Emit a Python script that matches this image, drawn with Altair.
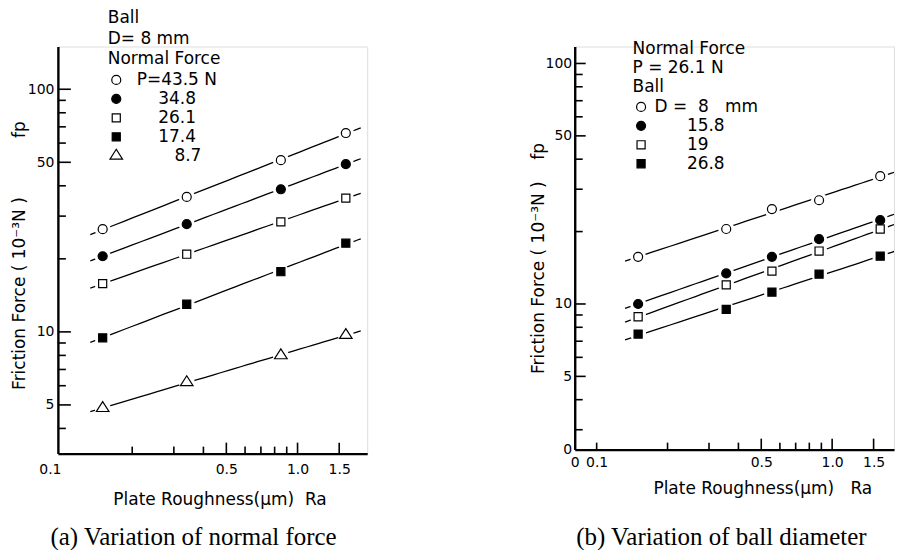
import altair as alt
import pandas as pd

# ---------------- panel (a): variation of normal force ----------------
ra_a = [0.15, 0.34, 0.85, 1.6]
load_levels = ["43.5", "34.8", "26.1", "17.4", "8.7"]
fp_a_435 = [26.5, 36.0, 51.0, 66.0]
fp_a_348 = [20.5, 27.8, 38.7, 49.1]
fp_a_261 = [15.8, 20.9, 28.4, 35.6]
fp_a_174 = [9.45, 13.0, 17.7, 23.2]
fp_a_87 = [4.85, 6.2, 8.0, 9.7]

# ---------------- panel (b): variation of ball diameter ----------------
ra_b = [0.15, 0.355, 0.555, 0.88, 1.6]
dia_levels = ["8", "15.8", "19", "26.8"]
fp_b_8 = [15.7, 20.5, 24.8, 27.0, 34.0]
fp_b_158 = [10.0, 13.4, 15.7, 18.6, 22.3]
fp_b_19 = [8.85, 12.0, 13.7, 16.6, 20.5]
fp_b_268 = [7.5, 9.5, 11.2, 13.3, 15.8]

# ---------------- axis ticks / labels ----------------
y_labels_a = [5, 10, 50, 100]
y_major_a = [5, 10, 50, 100]
y_minor_a = [4, 6, 7, 8, 9, 20, 30, 40, 60, 70, 80, 90]
x_labels_a = [0.1, 0.5, 1.0, 1.5]
x_major_a = [0.5, 1.0, 1.5]
x_minor_a = [0.2, 0.3, 0.4, 0.6, 0.7, 0.8, 0.9]

y_labels_b = [2.48, 5, 10, 50, 100]
y_major_b = [5, 10, 50, 100]
y_minor_b = [3, 4, 6, 7, 8, 9, 20, 30, 40, 60, 70, 80, 90]
x_labels_b = [0.0807, 0.1, 0.5, 1.0, 1.5]
x_major_b = [0.5, 1.0, 1.5]
x_minor_b = [0.1, 0.2, 0.3, 0.4, 0.6, 0.7, 0.8, 0.9]

x_dom_a = [0.097, 1.97]
y_dom_a = [3.15, 150]
x_dom_b = [0.0807, 1.831]
y_dom_b = [2.48, 117.6]

SQUARE = "M-0.9,-0.9L0.9,-0.9L0.9,0.9L-0.9,0.9Z"
TRIANGLE = "M0,-1.45L1.4,0.75L-1.4,0.75Z"
FONT = "DejaVu Sans"
NB = "\u00a0"
ZW = "\u200b"


def long_df(xs, levels, series):
    rows = []
    for lev, ys in zip(levels, series):
        for x, y in zip(xs, ys):
            rows.append({"ra": x, "fp": y, "series": lev})
    return pd.DataFrame(rows)


df_a = long_df(ra_a, load_levels, [fp_a_435, fp_a_348, fp_a_261, fp_a_174, fp_a_87])
df_b = long_df(ra_b, dia_levels, [fp_b_8, fp_b_158, fp_b_19, fp_b_268])


def panel(df, levels, shapes, fills, xdom, ydom, width, height, extent,
          x_labels, x_lab_expr, x_lab_align, x_major, x_minor, y_labels, y_lab_expr,
          y_major, y_minor, ytitle, ytitle_x, ytitle_y, xtitle, xtitle_x,
          xtitle_y, x_lab_pad, y_lab_pad, legend, caption, cap_dx, cap_off,
          ymaj_len, ymin_len, xmaj_len, xmin_len):
    xs = alt.Scale(type="log", domain=xdom, nice=False, zero=False)
    ys = alt.Scale(type="log", domain=ydom, nice=False, zero=False)

    x_axis = alt.Axis(values=x_labels, labelExpr=x_lab_expr, labelAlign=x_lab_align,
                      ticks=False, grid=False,
                      domainColor="black", domainWidth=2.4, labelFont=FONT,
                      labelFontSize=14, labelColor="black", labelPadding=x_lab_pad,
                      labelFlush=False, labelOverlap=False, title=xtitle,
                      titleFont=FONT, titleFontSize=17, titleFontWeight="normal",
                      titleColor="black", titleX=xtitle_x, titleY=xtitle_y,
                      titleAlign="center", titleBaseline="middle")
    y_axis = alt.Axis(values=y_labels, labelExpr=y_lab_expr, ticks=False, grid=False,
                      domainColor="black", domainWidth=2.4, labelFont=FONT,
                      labelFontSize=14, labelColor="black", labelPadding=y_lab_pad,
                      labelOverlap=False, labelFlush=False, title=ytitle,
                      titleFont=FONT, titleFontSize=17, titleFontWeight="normal",
                      titleColor="black", titleX=ytitle_x, titleY=ytitle_y,
                      titleAngle=270, titleAlign="center", titleBaseline="middle")

    lines = alt.Chart(df).transform_regression(
        "ra", "fp", groupby=["series"], method="pow", extent=extent
    ).mark_line(color="black", strokeWidth=1.3, clip=True).encode(
        x=alt.X("ra:Q", scale=xs, axis=x_axis),
        y=alt.Y("fp:Q", scale=ys, axis=y_axis),
        detail="series:N",
    )
    halo = alt.Chart(df).mark_point(shape="circle", filled=True, color="white",
                                    size=260, opacity=1).encode(
        x=alt.X("ra:Q", scale=xs, axis=x_axis),
        y=alt.Y("fp:Q", scale=ys, axis=y_axis),
    )
    markers = alt.Chart(df).mark_point(filled=True, strokeWidth=1.2,
                                       size=81, opacity=1).encode(
        x=alt.X("ra:Q", scale=xs, axis=x_axis),
        y=alt.Y("fp:Q", scale=ys, axis=y_axis),
        shape=alt.Shape("series:N", scale=alt.Scale(domain=levels, range=shapes),
                        sort=levels, legend=legend),
        fill=alt.Fill("series:N", scale=alt.Scale(domain=levels, range=fills),
                      sort=levels, legend=legend),
        stroke=alt.Stroke("series:N",
                          scale=alt.Scale(domain=levels, range=["black"] * len(levels)),
                          sort=levels, legend=legend),
    )

    def yticks(vals, length):
        return alt.Chart(pd.DataFrame({"v": vals})).mark_rule(
            color="black", strokeWidth=1.6).encode(
            y=alt.Y("v:Q", scale=ys, axis=y_axis), x=alt.value(0), x2=alt.value(length))

    def xticks(vals, length):
        return alt.Chart(pd.DataFrame({"v": vals})).mark_rule(
            color="black", strokeWidth=1.6).encode(
            x=alt.X("v:Q", scale=xs, axis=x_axis), y=alt.value(height),
            y2=alt.value(height - length))

    return alt.layer(
        lines, halo, markers,
        yticks(y_major, ymaj_len), yticks(y_minor, ymin_len),
        xticks(x_major, xmaj_len), xticks(x_minor, xmin_len),
    ).properties(
        width=width, height=height,
        title=alt.TitleParams(caption, orient="bottom", anchor="middle", frame="group",
                              font="Liberation Serif", fontSize=25, fontWeight="normal",
                              color="black", dx=cap_dx, offset=cap_off),
    )


legend_a = alt.Legend(
    title=["Ball", "D= 8 mm", "Normal Force"], orient="none", legendX=50, legendY=-37,
    titleFont=FONT, titleFontSize=17, titleFontWeight="normal", titleColor="black",
    titleLineHeight=21, titlePadding=3, labelFont=FONT, labelFontSize=17,
    labelColor="black", symbolSize=81, symbolStrokeColor="black", symbolStrokeWidth=1.2,
    rowPadding=1, labelOffset=12, padding=0,
    labelExpr=("datum.label == '43.5' ? 'P=43.5 N' : "
               "(datum.label == '8.7' ? '" + ZW + NB * 7 + "8.7' : '"
               + ZW + NB * 4 + "' + datum.label)"),
)
legend_b = alt.Legend(
    title=["Normal Force", "P = 26.1 N", "Ball"], orient="none", legendX=58, legendY=-6,
    titleFont=FONT, titleFontSize=17, titleFontWeight="normal", titleColor="black",
    titleLineHeight=19.5, titlePadding=2, labelFont=FONT, labelFontSize=17,
    labelColor="black", symbolSize=81, symbolStrokeColor="black", symbolStrokeWidth=1.2,
    rowPadding=1, labelOffset=5, padding=0,
    labelExpr="datum.label == '8' ? 'D = " + NB + "8" + NB * 3 + "mm' : '" + ZW + NB * 6 + "' + datum.label",
)

pa = panel(
    df_a, load_levels, ["circle", "circle", SQUARE, SQUARE, TRIANGLE],
    ["white", "black", "white", "black", "white"], x_dom_a, y_dom_a, 310, 408,
    [0.133, 1.85], x_labels_a, "format(datum.value, '.1f')",
    {"condition": {"test": "datum.value < 0.11", "value": "right"}, "value": "center"},
    x_major_a, x_minor_a,
    y_labels_a, "format(datum.value, 'd')", y_major_a, y_minor_a,
    "Friction Force ( 10\u207b\u00b3N )" + NB * 11 + "fp", -38, 209,
    "Plate Roughness(\u03bcm)" + NB * 2 + "Ra", 162, 46, 9, 4, legend_a,
    "(a) Variation of normal force", -19, 18, 13, 8, 11, 7,
)
pb = panel(
    df_b, dia_levels, ["circle", "circle", SQUARE, SQUARE],
    ["white", "black", "white", "black"], x_dom_b, y_dom_b, 320, 404,
    [0.132, 2.0], x_labels_b, "datum.value < 0.09 ? '0' : format(datum.value, '.1f')",
    "center", x_major_b, x_minor_b, y_labels_b,
    "datum.value < 3 ? '0' : format(datum.value, 'd')", y_major_b, y_minor_b,
    "Friction Force ( 10\u207b\u00b3N )" + NB * 4 + "fp", -36, 212,
    "Plate Roughness(\u03bcm)" + NB * 3 + "Ra", 188, 39, 6, 3, legend_b,
    "(b) Variation of ball diameter", -13, 29, 11, 8, 11, 7,
)

chart = alt.hconcat(pa, pb, spacing=208, bounds="flush").resolve_scale(
    x="independent", y="independent", shape="independent", fill="independent",
    stroke="independent"
).resolve_legend(shape="independent", fill="independent", stroke="independent").properties(
    padding={"left": 2, "top": 0, "right": 0, "bottom": 0}
).configure_view(stroke=None).configure(background="white")

chart.save("out.html", embed_options={"renderer": "svg", "actions": False})
